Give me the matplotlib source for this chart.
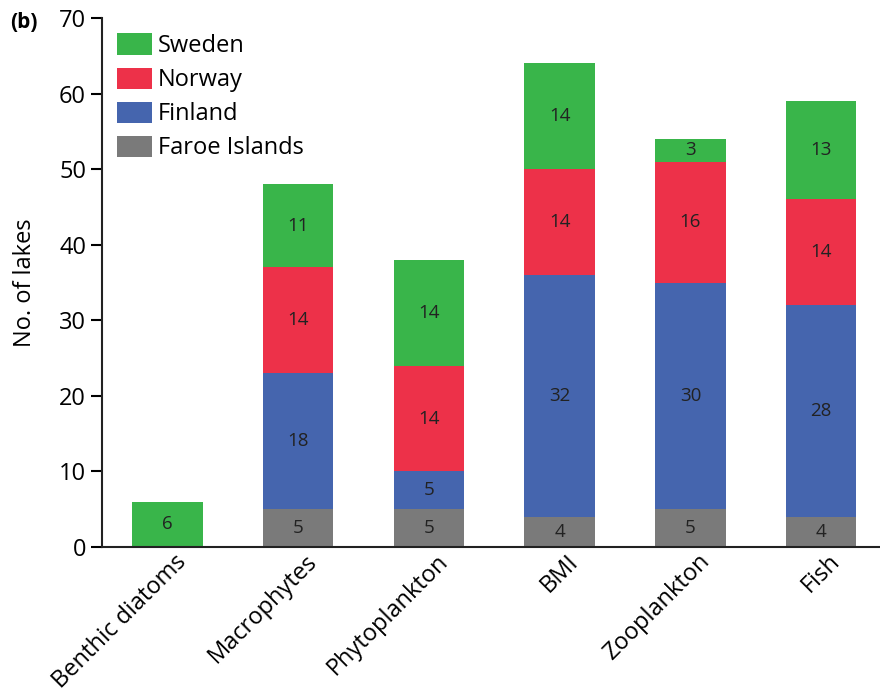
import numpy as np
import matplotlib.pyplot as plt

plt.rcParams['font.family'] = ['Open Sans', 'DejaVu Sans']

categories = ['Benthic diatoms', 'Macrophytes', 'Phytoplankton', 'BMI', 'Zooplankton', 'Fish']
faroe = [0, 5, 5, 4, 5, 4]
finland = [0, 18, 5, 32, 30, 28]
norway = [0, 14, 14, 14, 16, 14]
sweden = [6, 11, 14, 14, 3, 13]

series = [('Faroe Islands', faroe, '#7a7a7a'),
          ('Finland', finland, '#4565ae'),
          ('Norway', norway, '#ed3149'),
          ('Sweden', sweden, '#39b54a')]

fig = plt.figure(figsize=(8.8, 6.95), dpi=100)
ax = fig.add_axes([0.116, 0.213, 0.884, 0.761])

x = np.arange(len(categories))
bottom = np.zeros(len(categories))
handles = {}
for name, vals, col in series:
    vals = np.array(vals)
    bars = ax.bar(x, vals, 0.54, bottom=bottom, color=col, label=name)
    handles[name] = bars
    for xi, b, v in zip(x, bottom, vals):
        if v > 0:
            ax.text(xi, b + v / 2, str(v), ha='center', va='center',
                    fontsize=13.5, color='#222222')
    bottom += vals

ax.set_xlim(-0.5, 5.45)
ax.set_ylim(0, 70)
ax.set_yticks(range(0, 71, 10))
ax.set_xticks(x)
ax.set_xticklabels([])
# rotated category labels, anchored a bit right of each bar centre
for xi, cat in zip(x, categories):
    ax.annotate(cat, (xi, 0), xycoords=('data', 'axes fraction'),
                xytext=(5, -2), textcoords='offset points',
                rotation=45, ha='right', va='top', rotation_mode='anchor',
                fontsize=17, annotation_clip=False)
ax.tick_params(axis='y', labelsize=17, length=8, width=1.5, direction='out')
ax.tick_params(axis='x', length=0)
ax.set_ylabel('No. of lakes', fontsize=17, labelpad=16)
for s in ['top', 'right']:
    ax.spines[s].set_visible(False)
for s in ['left', 'bottom']:
    ax.spines[s].set_linewidth(1.5)
    ax.spines[s].set_color('#222222')

order = ['Sweden', 'Norway', 'Finland', 'Faroe Islands']
leg = ax.legend([handles[n] for n in order], order, loc='upper left',
                bbox_to_anchor=(0.0, 1.0), frameon=False, fontsize=17,
                handlelength=1.45, handleheight=1.0, labelspacing=0.4,
                handletextpad=0.25, borderaxespad=0.25)

fig.text(0.012, 0.968, '(b)', fontsize=15, fontweight='bold', va='center')

fig.savefig('out.png', dpi=100)
